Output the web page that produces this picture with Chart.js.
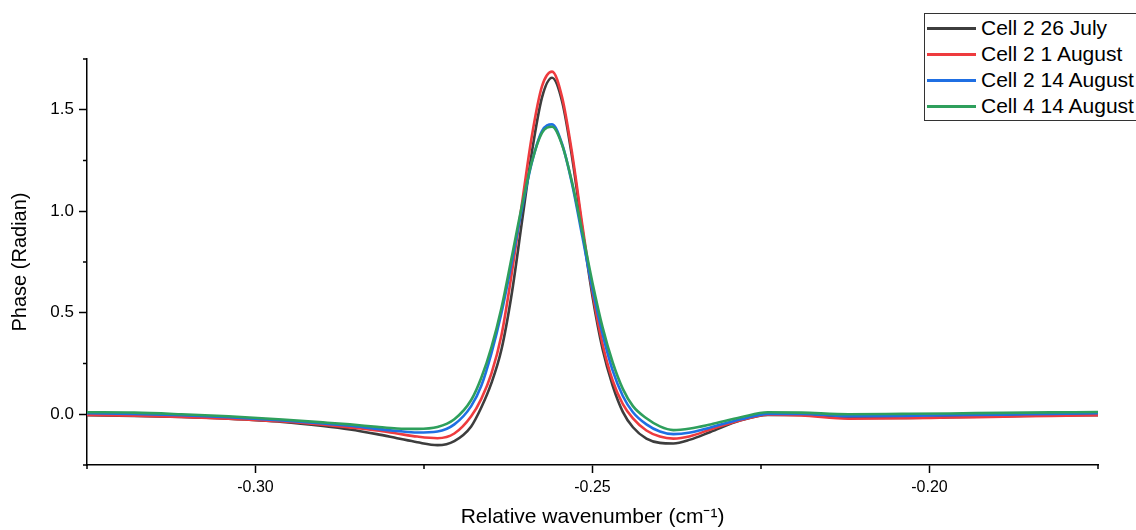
<!DOCTYPE html>
<html>
<head>
<meta charset="utf-8">
<script src="https://cdn.jsdelivr.net/npm/chart.js@4"></script>
<style>
    body { margin: 0; background: #fff; font-family: "Liberation Sans", Arial, sans-serif; }
    .contenedor { position: relative; width: 1136px; height: 530px; overflow: hidden; }
    .leyenda { position: absolute; left: 924px; top: 13px; width: 240px; height: 106px; border: 1.5px solid #333; background: #fff; }
    .fila { position: absolute; left: 0; height: 26px; }
    .fila span.linea { position: absolute; left: 2px; width: 49px; height: 3px; }
    .fila span.texto { position: absolute; left: 56px; top: -1px; font-size: 21px; color: #000; white-space: nowrap; line-height: 24px; }
</style>
</head>
<body>
<div class="contenedor">
    <canvas id="grafico" width="1136" height="530"></canvas>
    <div class="leyenda" id="leyenda"></div>
</div>
<script>
// datos
var wavenumber = [-0.325, -0.318, -0.311, -0.304, -0.296, -0.290, -0.286, -0.282, -0.279, -0.276, -0.273,
    -0.2705, -0.268, -0.2665, -0.265, -0.2635, -0.262, -0.2605, -0.259, -0.2575, -0.256, -0.2545, -0.253,
    -0.2515, -0.250, -0.2485, -0.247, -0.2455, -0.244, -0.242, -0.240, -0.238, -0.2355, -0.2325, -0.228,
    -0.224, -0.219, -0.212, -0.204, -0.197, -0.189, -0.182, -0.175];

var cell2_26july = [-0.005, -0.008, -0.013, -0.022, -0.038, -0.058, -0.075, -0.098, -0.118, -0.138, -0.152,
    -0.132, -0.06, 0.033, 0.153, 0.32, 0.59, 0.94, 1.29, 1.56, 1.658, 1.54, 1.26,
    0.91, 0.58, 0.32, 0.14, 0.012, -0.064, -0.12, -0.141, -0.144, -0.125, -0.087, -0.03,
    -0.003, -0.003, -0.018, -0.018, -0.014, -0.010, -0.006, -0.005];

var cell2_1august = [-0.003, -0.007, -0.013, -0.022, -0.036, -0.052, -0.065, -0.08, -0.095, -0.11, -0.118,
    -0.095, -0.01, 0.076, 0.20, 0.39, 0.69, 1.03, 1.37, 1.615, 1.688, 1.56, 1.28,
    0.93, 0.60, 0.345, 0.165, 0.05, -0.02, -0.08, -0.11, -0.12, -0.108, -0.075, -0.03,
    -0.002, -0.006, -0.022, -0.02, -0.016, -0.012, -0.008, -0.005];

var cell2_14august = [0.005, 0.002, -0.005, -0.015, -0.03, -0.045, -0.057, -0.072, -0.082, -0.09, -0.085,
    -0.05, 0.04, 0.14, 0.30, 0.50, 0.744, 1.006, 1.24, 1.395, 1.428, 1.33, 1.13,
    0.874, 0.616, 0.395, 0.215, 0.09, 0.01, -0.05, -0.085, -0.098, -0.09, -0.065, -0.025,
    0.002, 0.002, -0.01, -0.008, -0.005, -0.002, 0.002, 0.005];

var cell4_14august = [0.01, 0.008, 0.0, -0.01, -0.026, -0.04, -0.05, -0.062, -0.07, -0.072, -0.063,
    -0.025, 0.07, 0.18, 0.33, 0.525, 0.771, 1.022, 1.243, 1.386, 1.416, 1.326, 1.138,
    0.896, 0.647, 0.428, 0.255, 0.125, 0.04, -0.02, -0.06, -0.078, -0.07, -0.05, -0.015,
    0.01, 0.008, 0.0, 0.002, 0.004, 0.007, 0.009, 0.011];

var nombres = ['Cell 2 26 July', 'Cell 2 1 August', 'Cell 2 14 August', 'Cell 4 14 August'];
var colores = ['#3d3d3d', '#ee3b3e', '#1f6fe3', '#2e9f5c'];

var xTicks = [-0.325, -0.30, -0.275, -0.25, -0.225, -0.20, -0.175];
var xTickLabels = ['', '-0.30', '', '-0.25', '', '-0.20', ''];
var yTicks = [-0.25, 0, 0.25, 0.5, 0.75, 1.0, 1.25, 1.5, 1.75];
var yTickLabels = ['', '0.0', '', '0.5', '', '1.0', '', '1.5', ''];

/*=============================================
DATASETS
=============================================*/
var series = [cell2_26july, cell2_1august, cell2_14august, cell4_14august];
var datasets = series.map(function (valores, i) {
    return {
        label: nombres[i],
        data: valores.map(function (v, j) { return { x: wavenumber[j], y: v }; }),
        borderColor: colores[i],
        borderWidth: 2.6,
        pointRadius: 0,
        fill: false,
        cubicInterpolationMode: 'monotone',
        order: 4 - i
    };
});

// ticks cortos (menores) dibujados aparte
var ticksMenores = {
    id: 'ticksMenores',
    afterDraw: function (chart) {
        var ctx = chart.ctx;
        var xs = chart.scales.x, ys = chart.scales.y;
        ctx.save();
        ctx.strokeStyle = '#000';
        ctx.lineWidth = 1.5;
        xTicks.forEach(function (v, i) {
            if (xTickLabels[i] !== '') return;
            var px = xs.getPixelForValue(v);
            ctx.beginPath();
            ctx.moveTo(px, ys.bottom);
            ctx.lineTo(px, ys.bottom + 4);
            ctx.stroke();
        });
        yTicks.forEach(function (v, i) {
            if (yTickLabels[i] !== '') return;
            var py = ys.getPixelForValue(v);
            ctx.beginPath();
            ctx.moveTo(xs.left, py);
            ctx.lineTo(xs.left - 4, py);
            ctx.stroke();
        });
        ctx.restore();
    }
};

var ctx = document.getElementById('grafico').getContext('2d');
new Chart(ctx, {
    type: 'line',
    data: { datasets: datasets },
    options: {
        responsive: false,
        animation: false,
        layout: { padding: { left: 0, right: 38, top: 59, bottom: 0 } },
        plugins: { legend: { display: false }, tooltip: { enabled: false } },
        scales: {
            x: {
                type: 'linear',
                min: -0.325,
                max: -0.175,
                afterBuildTicks: function (axis) {
                    axis.ticks = xTicks.map(function (v) { return { value: v }; });
                },
                afterFit: function (axis) { axis.height = 65; },
                ticks: {
                    autoSkip: false,
                    maxRotation: 0,
                    padding: 5,
                    color: '#000',
                    font: { family: 'Liberation Sans', size: 16 },
                    callback: function (value, index) { return xTickLabels[index]; }
                },
                grid: {
                    drawOnChartArea: false,
                    tickLength: 8,
                    tickWidth: 1.5,
                    tickColor: function (c) { return xTickLabels[c.index] ? '#000' : 'rgba(0,0,0,0)'; }
                },
                border: { color: '#000', width: 1.5 },
                title: {
                    display: true,
                    text: 'Relative wavenumber (cm⁻¹)',
                    color: '#000',
                    font: { family: 'Liberation Sans', size: 21 },
                    padding: { top: 0, bottom: 0 }
                }
            },
            y: {
                min: -0.25,
                max: 1.75,
                afterBuildTicks: function (axis) {
                    axis.ticks = yTicks.map(function (v) { return { value: v }; });
                },
                afterFit: function (axis) { axis.width = 87; },
                ticks: {
                    autoSkip: false,
                    padding: 5,
                    color: '#000',
                    font: { family: 'Liberation Sans', size: 17 },
                    callback: function (value, index) { return yTickLabels[index]; }
                },
                grid: {
                    drawOnChartArea: false,
                    tickLength: 8,
                    tickWidth: 1.5,
                    tickColor: function (c) { return yTickLabels[c.index] ? '#000' : 'rgba(0,0,0,0)'; }
                },
                border: { color: '#000', width: 1.5 },
                title: {
                    display: true,
                    text: 'Phase (Radian)',
                    color: '#000',
                    font: { family: 'Liberation Sans', size: 20 },
                    padding: { top: 8, bottom: 0 }
                }
            }
        }
    },
    plugins: [ticksMenores]
});

// leyenda con borde
var leyenda = document.getElementById('leyenda');
nombres.forEach(function (nombre, i) {
    var fila = document.createElement('div');
    fila.className = 'fila';
    fila.style.top = (3 + i * 26) + 'px';
    fila.innerHTML = '<span class="linea" style="top:10px;background:' + colores[i] + '"></span>' +
        '<span class="texto">' + nombre + '</span>';
    leyenda.appendChild(fila);
});
</script>
</body>
</html>
